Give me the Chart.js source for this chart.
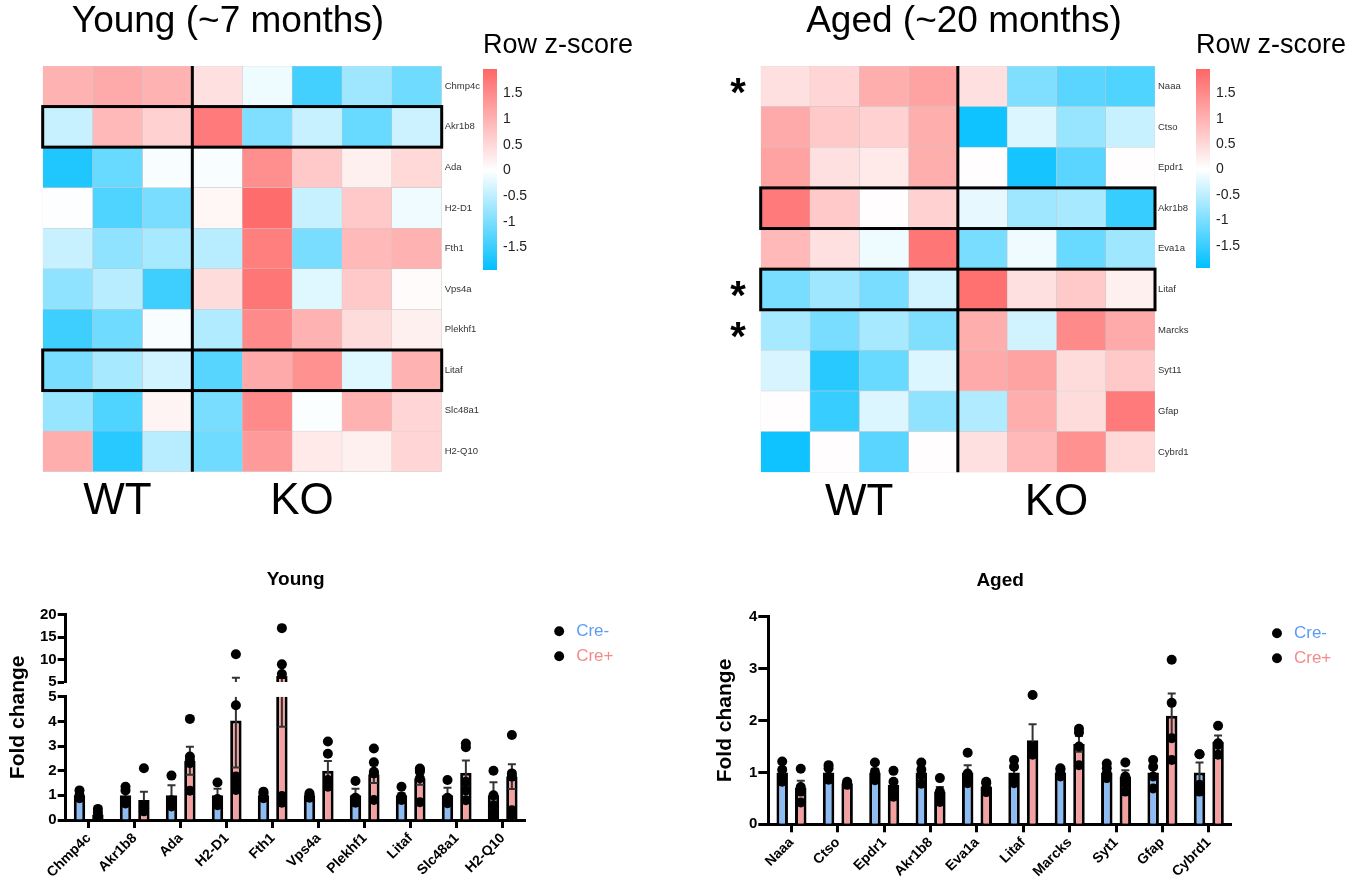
<!DOCTYPE html>
<html>
<head>
<meta charset="utf-8">
<title>Young vs aged heatmaps and qPCR</title>
<script src="https://cdn.jsdelivr.net/npm/chart.js@4.4.1/dist/chart.umd.min.js"></script>
<style>
  html, body { margin: 0; padding: 0; background: #fff; }
  body { width: 1365px; height: 886px; position: relative; overflow: hidden; }
  canvas { position: absolute; }
</style>
</head>
<body>
<canvas id="heatYoung" width="504" height="540" style="left:-24px;top:0px"></canvas>
<canvas id="heatAged" width="478" height="540" style="left:725px;top:0px"></canvas>
<canvas id="barYoungScale" width="160" height="242" style="left:483px;top:28px"></canvas>
<canvas id="barAgedScale" width="160" height="240" style="left:1196px;top:28px"></canvas>
<canvas id="qpcrYoung" width="680" height="326" style="left:0px;top:560px"></canvas>
<canvas id="qpcrAged" width="665" height="326" style="left:700px;top:560px"></canvas>
<script>
// ---- heatmap data (row z-scores) ----
const youngGenes = ['Chmp4c', 'Akr1b8', 'Ada', 'H2-D1', 'Fth1', 'Vps4a', 'Plekhf1', 'Litaf', 'Slc48a1', 'H2-Q10'];
const youngZ = [
  [1.0, 1.1, 1.0, 0.4, -0.13, -1.42, -0.73, -1.1],
  [-0.42, 0.9, 0.6, 1.72, -0.97, -0.42, -1.15, -0.38],
  [-1.7, -1.15, -0.05, -0.05, 1.46, 0.7, 0.19, 0.5],
  [-0.02, -1.34, -1.03, 0.12, 1.9, -0.42, 0.7, -0.12],
  [-0.42, -0.85, -0.67, -0.54, 1.67, -1.03, 0.9, 1.0],
  [-0.85, -0.54, -1.46, 0.45, 1.77, -0.24, 0.7, 0.05],
  [-1.46, -1.1, -0.05, -0.6, 1.52, 1.0, 0.45, 0.19],
  [-1.03, -0.67, -0.36, -1.28, 1.1, 1.42, -0.24, 1.0],
  [-0.79, -1.34, 0.14, -1.03, 1.52, -0.03, 1.0, 0.55],
  [1.05, -1.64, -0.54, -1.1, 1.31, 0.29, 0.19, 0.55]
];
const youngStars = ['', '', '', '', '', '', '', '', '', ''];
const youngBoxes = ['Akr1b8', 'Litaf'];
const youngGroupPos = [1.5, 5.2];

const agedGenes = ['Naaa', 'Ctso', 'Epdr1', 'Akr1b8', 'Eva1a', 'Litaf', 'Marcks', 'Syt11', 'Gfap', 'Cybrd1'];
const agedZ = [
  [0.4, 0.55, 1.05, 1.21, 0.4, -0.97, -1.26, -1.34],
  [1.1, 0.7, 0.6, 1.05, -1.83, -0.27, -0.79, -0.42],
  [1.21, 0.4, 0.29, 1.05, 0.03, -1.77, -1.26, 0.03],
  [1.72, 0.7, 0.03, 0.6, -0.18, -0.73, -0.67, -1.52],
  [0.9, 0.4, -0.13, 1.77, -1.03, -0.12, -1.15, -0.73],
  [-1.03, -0.73, -1.03, -0.36, 1.85, 0.4, 0.7, 0.19],
  [-0.67, -1.03, -0.67, -0.97, 1.05, -0.36, 1.52, 1.1],
  [-0.3, -1.64, -1.15, -0.27, 1.1, 1.21, 0.45, 0.7],
  [0.03, -1.52, -0.27, -0.85, -0.6, 1.05, 0.45, 1.72],
  [-1.83, 0.03, -1.26, 0.03, 0.4, 0.9, 1.42, 0.5]
];
const agedStars = ['*', '', '', '', '', '*', '*', '', '', ''];
const agedBoxes = ['Akr1b8', 'Litaf'];
const agedGroupPos = [2, 6];

const groupLabels = ['WT', 'KO'];
const zMin = -1.94, zMax = 1.98;
const colorTicks = [1.5, 1, 0.5, 0, -0.5, -1, -1.5];

// ---- qPCR data (fold change) ----
const youngBarGenes = ['Chmp4c', 'Akr1b8', 'Ada', 'H2-D1', 'Fth1', 'Vps4a', 'Plekhf1', 'Litaf', 'Slc48a1', 'H2-Q10'];
const youngNegMean = [1.0, 1.0, 1.0, 1.0, 1.0, 1.0, 1.0, 1.0, 1.0, 1.0];
const youngNegSem = [0.07, 0.16, 0.41, 0.27, 0.05, 0.04, 0.27, 0.08, 0.31, 0.53];
const youngNegPts = [
  [1.2, 1.0, 0.92, 0.88], [1.35, 1.2, 0.78, 0.67], [1.8, 0.8, 0.7, 0.55], [1.52, 0.85, 0.7, 0.6],
  [1.15, 1.08, 0.95, 0.88], [1.08, 1.01, 0.95, 0.9], [1.58, 0.9, 0.8, 0.7], [1.35, 0.95, 0.88, 0.81],
  [1.62, 0.9, 0.81, 0.68], [2.0, 1.0, 0.6, 0.3, 0.1]
];
const youngPosMean = [0.22, 0.81, 2.4, 4.03, 6.34, 2.0, 1.86, 1.69, 1.92, 1.76];
const youngPosSem = [0.07, 0.34, 0.57, 1.9, 2.56, 0.39, 0.36, 0.26, 0.49, 0.5];
const youngPosPts = [
  [0.45, 0.3, 0.18, 0.1, 0.08], [2.1, 0.6, 0.5, 0.45, 0.35], [4.1, 2.57, 2.43, 2.3, 1.19],
  [11.2, 4.65, 1.76, 1.55, 1.22], [17.0, 8.93, 6.78, 0.97, 0.7], [3.18, 2.69, 1.62, 1.42, 1.35],
  [2.9, 2.34, 1.96, 1.89, 0.81], [2.09, 2.03, 1.96, 1.69, 0.72], [3.1, 2.95, 1.55, 1.2, 0.8],
  [3.45, 1.89, 1.76, 0.4, 0.2]
];

const agedBarGenes = ['Naaa', 'Ctso', 'Epdr1', 'Akr1b8', 'Eva1a', 'Litaf', 'Marcks', 'Syt1', 'Gfap', 'Cybrd1'];
const agedNegMean = [1.0, 1.0, 1.0, 1.0, 1.0, 1.0, 1.0, 1.0, 1.0, 1.0];
const agedNegSem = [0.09, 0.06, 0.07, 0.1, 0.14, 0.1, 0.03, 0.06, 0.12, 0.19];
const agedNegPts = [
  [1.21, 1.05, 0.89, 0.82], [1.14, 1.08, 0.92, 0.86], [1.19, 1.01, 0.95, 0.85], [1.19, 1.05, 0.95, 0.78],
  [1.38, 0.98, 0.85, 0.79], [1.24, 1.11, 0.89, 0.79], [1.08, 1.05, 0.98, 0.92], [1.17, 1.08, 0.98, 0.89],
  [1.24, 1.11, 0.92, 0.69], [1.35, 1.35, 0.76, 0.63]
];
const agedPosMean = [0.71, 0.79, 0.76, 0.63, 0.73, 1.62, 1.55, 0.92, 2.09, 1.59];
const agedPosSem = [0.13, 0.02, 0.09, 0.09, 0.04, 0.31, 0.15, 0.12, 0.43, 0.12];
const agedPosPts = [
  [1.07, 0.72, 0.63, 0.42], [0.82, 0.8, 0.78, 0.76], [1.03, 0.82, 0.66, 0.53], [0.89, 0.63, 0.57, 0.43],
  [0.82, 0.79, 0.69, 0.62], [2.49, 1.5, 1.4, 1.34], [1.84, 1.77, 1.5, 1.14], [1.19, 0.92, 0.79, 0.63],
  [3.17, 2.34, 1.66, 1.24], [1.9, 1.56, 1.53, 1.34]
];

const groupNames = ['Cre-', 'Cre+'];
const groupFills = ['#8cbcf4', '#f5a0a0'];
const groupTextColors = ['#5b9cf4', '#f48a8a'];

Chart.defaults.font.family = "'Liberation Sans', Arial, sans-serif";
Chart.defaults.color = '#000';
Chart.defaults.animation = false;

// ---- colour scale ----
const hot = [255, 102, 102], cold = [0, 191, 255];
function zColor(z) {
  const c = z >= 0 ? hot : cold;
  const t = Math.min(Math.abs(z) / (z >= 0 ? zMax : -zMin), 1);
  return 'rgb(' + c.map(v => Math.round(255 + (v - 255) * t)).join(',') + ')';
}

const noGrid = { display: false, drawTicks: false };
const noBorder = { display: false };

// divider + highlighted rows on the heatmaps
const heatFrame = {
  id: 'heatFrame',
  afterDatasetsDraw(chart, args, opts) {
    const { ctx } = chart;
    const x = chart.scales.x, y = chart.scales.y;
    const n = chart.data.labels.length;
    const left = x.getPixelForValue(x.min), right = x.getPixelForValue(x.max);
    ctx.save();
    ctx.strokeStyle = '#000';
    ctx.lineWidth = 3;
    opts.boxes.forEach(name => {
      const i = chart.data.labels.indexOf(name);
      const top = y.getPixelForValue(i - 0.5), bot = y.getPixelForValue(i + 0.5);
      ctx.strokeRect(left, top, right - left, bot - top);
    });
    const dx = x.getPixelForValue(opts.split);
    ctx.beginPath();
    ctx.moveTo(dx, y.getPixelForValue(-0.5));
    ctx.lineTo(dx, y.getPixelForValue(n - 0.5));
    ctx.stroke();
    ctx.restore();
  }
};

function heatmap(id, genes, z, o) {
  const cols = z[0].length;
  const datasets = [];
  for (let c = 0; c < cols; c++) {
    datasets.push({
      data: genes.map(() => [c, c + 1]),
      backgroundColor: z.map(row => zColor(row[c])),
      borderColor: '#c8c8c8', borderWidth: 0.5, borderSkipped: false,
      barPercentage: 1, categoryPercentage: 1, grouped: false
    });
  }
  return new Chart(document.getElementById(id), {
    type: 'bar',
    data: { labels: genes, datasets },
    options: {
      indexAxis: 'y', responsive: false, events: [],
      plugins: {
        legend: { display: false }, tooltip: { enabled: false },
        title: { display: true, text: o.title, font: { size: 37, weight: 'normal' }, color: '#000', padding: { top: 0, bottom: 21.6 } },
        heatFrame: { boxes: o.boxes, split: o.split }
      },
      scales: {
        x: {
          type: 'linear', min: 0, max: cols, grid: noGrid, border: noBorder,
          afterBuildTicks: ax => { ax.ticks = o.groupPos.map(v => ({ value: v })); },
          ticks: { autoSkip: false, maxRotation: 0, padding: 4, font: { size: 44 }, color: '#000', callback: (v, i) => groupLabels[i] },
          afterFit: s => { s.height = o.xH; s.paddingLeft = 0; s.paddingRight = 0; }
        },
        y: {
          type: 'category', position: 'right', offset: true, grid: noGrid, border: noBorder,
          ticks: { autoSkip: false, font: { size: 9.5 }, color: '#333', padding: 3 },
          afterFit: s => { s.width = o.rightW; }
        },
        yStar: {
          type: 'category', axis: 'y', position: 'left', labels: o.stars, offset: true, grid: noGrid, border: noBorder,
          ticks: { autoSkip: false, font: { size: 40, weight: 'bold' }, color: '#000', padding: 15, labelOffset: 9 },
          afterFit: s => { s.width = o.leftW; }
        }
      }
    },
    plugins: [heatFrame]
  });
}

function colorBar(id) {
  return new Chart(document.getElementById(id), {
    type: 'bar',
    data: {
      labels: [''],
      datasets: [{
        data: [[zMin, zMax]],
        backgroundColor: ctx => {
          const chart = ctx.chart;
          if (!chart.chartArea) return '#fff';
          const y = chart.scales.y;
          const g = chart.ctx.createLinearGradient(0, y.getPixelForValue(zMax), 0, y.getPixelForValue(zMin));
          g.addColorStop(0, zColor(zMax));
          g.addColorStop(zMax / (zMax - zMin), zColor(0));
          g.addColorStop(1, zColor(zMin));
          return g;
        },
        borderWidth: 0, barPercentage: 1, categoryPercentage: 1
      }]
    },
    options: {
      responsive: false, events: [],
      plugins: {
        legend: { display: false }, tooltip: { enabled: false },
        title: { display: true, text: 'Row z-score', align: 'start', font: { size: 27, weight: 'normal' }, color: '#000', padding: { top: 1.8, bottom: 6.8 } }
      },
      scales: {
        x: { display: false },
        y: {
          position: 'right', min: zMin, max: zMax, grid: noGrid, border: noBorder,
          afterBuildTicks: ax => { ax.ticks = colorTicks.map(v => ({ value: v })); },
          ticks: { autoSkip: false, font: { size: 14 }, color: '#222', padding: 6, callback: v => String(v) },
          afterFit: s => { s.width = 146; s.paddingTop = 0; s.paddingBottom = 0; }
        }
      }
    }
  });
}

// clip each dataset to the band of its own y axis (broken axis)
const axisClip = {
  id: 'axisClip',
  beforeDatasetDraw(chart, args, opts) {
    const id = args.meta.yAxisID;
    const ys = chart.scales[id];
    const ext = (opts.ext && opts.ext[id]) || [0, 0];
    const ctx = chart.ctx;
    ctx.save();
    ctx.beginPath();
    ctx.rect(0, ys.top - ext[0], chart.width, ys.bottom - ys.top + ext[0] + ext[1]);
    ctx.clip();
  },
  afterDatasetDraw(chart) { chart.ctx.restore(); }
};

function groupsOf(negMean, negSem, negPts, posMean, posSem, posPts) {
  return [
    { mean: negMean, sem: negSem, pts: negPts, fill: groupFills[0], off: -0.2 },
    { mean: posMean, sem: posSem, pts: posPts, fill: groupFills[1], off: 0.2 }
  ];
}

// bars, error bars and replicate dots, all on the category x axis (fractional index = side of the pair)
function barDatasets(groups, yId, keep) {
  const sets = [];
  groups.forEach(g => {
    sets.push({
      type: 'scatter', order: 0, xAxisID: 'x', yAxisID: yId, parsing: false,
      data: g.pts.flatMap((arr, i) => arr.filter(keep).map(v => ({ x: i + g.off, y: v }))),
      pointRadius: 5, pointBackgroundColor: '#000', pointBorderWidth: 0
    });
    sets.push({
      type: 'scatter', order: 1, xAxisID: 'x', yAxisID: yId, parsing: false,
      data: g.mean.flatMap((m, i) => [{ x: i + g.off, y: m + g.sem[i] }, { x: i + g.off, y: m - g.sem[i] }]),
      pointStyle: 'line', pointRadius: 4, pointBorderWidth: 2, pointBorderColor: '#333'
    });
    sets.push({
      type: 'line', order: 2, xAxisID: 'x', yAxisID: yId, parsing: false,
      data: g.mean.flatMap((m, i) => [{ x: i + g.off, y: m - g.sem[i] }, { x: i + g.off, y: m + g.sem[i] }, { x: i + g.off, y: null }]),
      borderColor: '#333', borderWidth: 2, pointRadius: 0, fill: false, spanGaps: false
    });
    sets.push({
      type: 'bar', order: 3, xAxisID: 'x', yAxisID: yId, parsing: false, grouped: false,
      data: g.mean.map((m, i) => ({ x: i + g.off, y: m })),
      backgroundColor: g.fill, borderColor: '#000', borderWidth: 3,
      categoryPercentage: 1, barPercentage: 0.62
    });
  });
  return sets;
}

function valueAxis(extra, ticks, tickLength) {
  return Object.assign({
    type: 'linear', axis: 'y', position: 'left',
    grid: { display: true, drawOnChartArea: false, drawTicks: true, tickLength: tickLength, tickWidth: 3, tickColor: '#000' },
    border: { display: true, width: 3, color: '#000' },
    ticks: Object.assign({ autoSkip: false, font: { size: 15, weight: 'bold' }, color: '#000', padding: 1 }, ticks)
  }, extra);
}

function blankAxis(extra) {
  return Object.assign({
    type: 'linear', axis: 'y', ticks: { display: false }, grid: noGrid, border: noBorder
  }, extra);
}

function commonOptions(o) {
  return {
    responsive: false, events: [],
    layout: { padding: { left: 0, right: o.padRight, top: 0, bottom: 0 } },
    plugins: {
      tooltip: { enabled: false },
      title: { display: true, text: o.title, fullSize: false, font: { size: 19, weight: 'bold' }, color: '#000', padding: { top: o.titleTop, bottom: o.titleBottom } },
      legend: {
        display: true, position: 'right', align: 'start', fullSize: false, maxWidth: 140,
        labels: {
          usePointStyle: true, boxWidth: 17, boxHeight: 7, padding: 8, font: { size: 17 },
          generateLabels: () => groupNames.map((t, i) => ({
            text: t, fillStyle: '#000', strokeStyle: '#000', lineWidth: 0, pointStyle: 'circle',
            fontColor: groupTextColors[i], hidden: false, datasetIndex: i
          }))
        }
      },
      axisClip: { ext: o.ext }
    }
  };
}

function xAxis(h) {
  return {
    type: 'category', position: 'bottom', offset: true,
    grid: { display: true, offset: false, drawOnChartArea: false, drawTicks: true, tickLength: 8, tickWidth: 3, tickColor: '#000' },
    border: { display: true, width: 3, color: '#000' },
    ticks: { autoSkip: false, maxRotation: 45, minRotation: 45, padding: 2, font: { size: 14, weight: 'bold' }, color: '#000' },
    afterFit: s => { s.height = h; }
  };
}

function fitWidth(w) { return s => { s.width = w; }; }

// ---- draw ----
heatmap('heatYoung', youngGenes, youngZ, {
  title: 'Young (~7 months)', boxes: youngBoxes, split: 3, groupPos: youngGroupPos,
  stars: youngStars, leftW: 66.7, rightW: 38.3, xH: 68.3
});
heatmap('heatAged', agedGenes, agedZ, {
  title: 'Aged (~20 months)', boxes: agedBoxes, split: 4, groupPos: agedGroupPos,
  stars: agedStars, leftW: 35.7, rightW: 48, xH: 67.7
});
colorBar('barYoungScale');
colorBar('barAgedScale');

const youngGroups = groupsOf(youngNegMean, youngNegSem, youngNegPts, youngPosMean, youngPosSem, youngPosPts);
const youngOpts = commonOptions({ title: 'Young', padRight: 56.5, titleTop: 8, titleBottom: 23.9, ext: { yLow: [0, 7], yHigh: [7, 0] } });
youngOpts.scales = {
  x: xAxis(66),
  yTitle: blankAxis({ position: 'left', weight: 10, title: { display: true, text: 'Fold change', font: { size: 21, weight: 'bold' }, color: '#000', padding: { top: 6, bottom: 0 } }, afterFit: fitWidth(32) }),
  yHigh: valueAxis({ stack: 'y', stackWeight: 67.3, weight: 3, min: 5, max: 20, afterFit: fitWidth(33.7) }, { stepSize: 5 }, 8),
  yGap: blankAxis({ position: 'left', stack: 'y', stackWeight: 14.7, weight: 2, min: 0, max: 1, afterFit: fitWidth(33.7) }),
  yLow: valueAxis({ stack: 'y', stackWeight: 123.3, weight: 1, min: 0, max: 5, afterFit: fitWidth(33.7) }, { stepSize: 1 }, 8),
  yPad: blankAxis({ position: 'right', afterFit: fitWidth(17) })
};
new Chart(document.getElementById('qpcrYoung'), {
  type: 'bar',
  data: {
    labels: youngBarGenes,
    datasets: barDatasets(youngGroups, 'yLow', v => v < 5).concat(barDatasets(youngGroups, 'yHigh', v => v >= 5))
  },
  options: youngOpts,
  plugins: [axisClip]
});

const agedGroups = groupsOf(agedNegMean, agedNegSem, agedNegPts, agedPosMean, agedPosSem, agedPosPts);
const agedOpts = commonOptions({ title: 'Aged', padRight: 23.7, titleTop: 9, titleBottom: 24.9, ext: { yLow: [7, 7] } });
agedOpts.scales = {
  x: xAxis(61.7),
  yTitle: blankAxis({ position: 'left', weight: 10, title: { display: true, text: 'Fold change', font: { size: 21, weight: 'bold' }, color: '#000', padding: { top: 12.8, bottom: 0 } }, afterFit: fitWidth(40) }),
  yLow: valueAxis({ weight: 1, min: 0, max: 4, afterFit: fitWidth(28.3) }, { stepSize: 1 }, 10),
  yPad: blankAxis({ position: 'right', afterFit: fitWidth(28.5) })
};
new Chart(document.getElementById('qpcrAged'), {
  type: 'bar',
  data: { labels: agedBarGenes, datasets: barDatasets(agedGroups, 'yLow', () => true) },
  options: agedOpts,
  plugins: [axisClip]
});
</script>
</body>
</html>
